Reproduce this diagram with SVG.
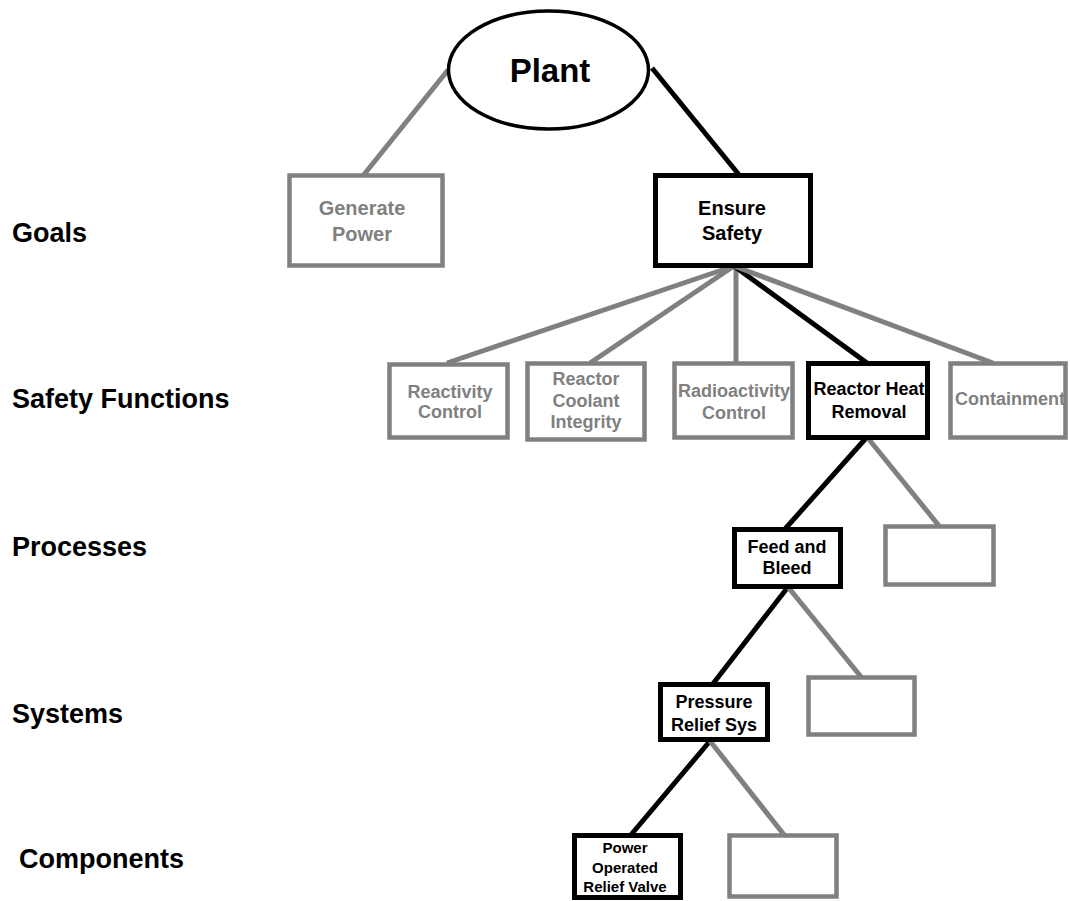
<svg xmlns="http://www.w3.org/2000/svg" width="1070" height="901" viewBox="0 0 1070 901">
<style>
text{font-family:"Liberation Sans",Arial,sans-serif;font-weight:bold;text-anchor:middle}
.lvl{font-size:27px;fill:#000;text-anchor:start}
.g{fill:#fff;stroke:#808080;stroke-width:4.5}
.b{fill:#fff;stroke:#000;stroke-width:5}
.gl{stroke:#808080;stroke-width:5;fill:none}
.bl{stroke:#000;stroke-width:5;fill:none}
.tg{fill:#808080;font-size:18px}
.tb{fill:#000;font-size:18px}
.goal{font-size:20px}
.small{font-size:15px}
</style>
<rect width="1070" height="901" fill="#fff"/>
<g id="levels">
<text class="lvl" x="12" y="242">Goals</text>
<text class="lvl" x="12" y="408">Safety Functions</text>
<text class="lvl" x="12" y="556">Processes</text>
<text class="lvl" x="12" y="723">Systems</text>
<text class="lvl" x="19" y="868">Components</text>
</g>
<g id="connectors">
<line class="gl" x1="448" y1="70" x2="362" y2="177"/>
<line class="bl" x1="652" y1="68" x2="740" y2="176"/>
<line class="gl" x1="734" y1="266" x2="447" y2="363"/>
<line class="gl" x1="734" y1="266" x2="590" y2="363"/>
<line class="gl" x1="736" y1="266" x2="736" y2="365"/>
<line class="bl" x1="734" y1="266" x2="867" y2="363"/>
<line class="gl" x1="734" y1="266" x2="993" y2="363"/>
<line class="bl" x1="867" y1="437" x2="785" y2="529"/>
<line class="gl" x1="867" y1="437" x2="940" y2="527"/>
<line class="bl" x1="788" y1="587" x2="712" y2="685"/>
<line class="gl" x1="788" y1="587" x2="862" y2="678"/>
<line class="bl" x1="710" y1="741" x2="630" y2="836"/>
<line class="gl" x1="710" y1="741" x2="785" y2="836"/>
</g>
<g id="plant">
<ellipse cx="548.5" cy="70" rx="100" ry="59" fill="#fff" stroke="#000" stroke-width="3.5"/>
<text x="550" y="82" style="font-size:33px">Plant</text>
</g>
<g id="generate-power">
<rect class="g" x="289.5" y="175.5" width="153" height="90"/>
<text class="tg goal" x="362" y="215">Generate</text>
<text class="tg goal" x="362" y="241">Power</text>
</g>
<g id="ensure-safety">
<rect class="b" x="655.5" y="175.5" width="155" height="90"/>
<text class="tb goal" x="732" y="215">Ensure</text>
<text class="tb goal" x="732" y="240">Safety</text>
</g>
<g id="reactivity-control">
<rect class="g" x="389.5" y="364.5" width="118" height="73"/>
<text class="tg" x="450" y="398">Reactivity</text>
<text class="tg" x="450" y="418">Control</text>
</g>
<g id="reactor-coolant-integrity">
<rect class="g" x="527.5" y="363.5" width="117" height="76"/>
<text class="tg" x="586" y="385">Reactor</text>
<text class="tg" x="586" y="407">Coolant</text>
<text class="tg" x="586" y="428">Integrity</text>
</g>
<g id="radioactivity-control">
<rect class="g" x="674.5" y="363.5" width="118" height="74"/>
<text class="tg" x="734" y="397">Radioactivity</text>
<text class="tg" x="734" y="419">Control</text>
</g>
<g id="reactor-heat-removal">
<rect class="b" x="808.5" y="363.5" width="119" height="74"/>
<text class="tb" x="869" y="395">Reactor Heat</text>
<text class="tb" x="869" y="418">Removal</text>
</g>
<g id="containment">
<rect class="g" x="950.5" y="363.5" width="115" height="74"/>
<text class="tg" x="1010" y="405">Containment</text>
</g>
<g id="feed-and-bleed">
<rect class="b" x="734.5" y="529.5" width="106" height="57"/>
<text class="tb" x="787" y="553">Feed and</text>
<text class="tb" x="787" y="574">Bleed</text>
</g>
<g id="process-empty">
<rect class="g" x="885.5" y="526.5" width="108" height="58"/>
</g>
<g id="pressure-relief-sys">
<rect class="b" x="660.5" y="684.5" width="107" height="55"/>
<text class="tb" x="714" y="708">Pressure</text>
<text class="tb" x="714" y="731">Relief Sys</text>
</g>
<g id="system-empty">
<rect class="g" x="808.5" y="677.5" width="106" height="57"/>
</g>
<g id="porv">
<rect class="b" x="574.5" y="835.5" width="106" height="62"/>
<text class="tb small" x="625" y="853">Power</text>
<text class="tb small" x="625" y="873">Operated</text>
<text class="tb small" x="625" y="892">Relief Valve</text>
</g>
<g id="component-empty">
<rect class="g" x="729.5" y="835.5" width="107" height="61"/>
</g>
</svg>
